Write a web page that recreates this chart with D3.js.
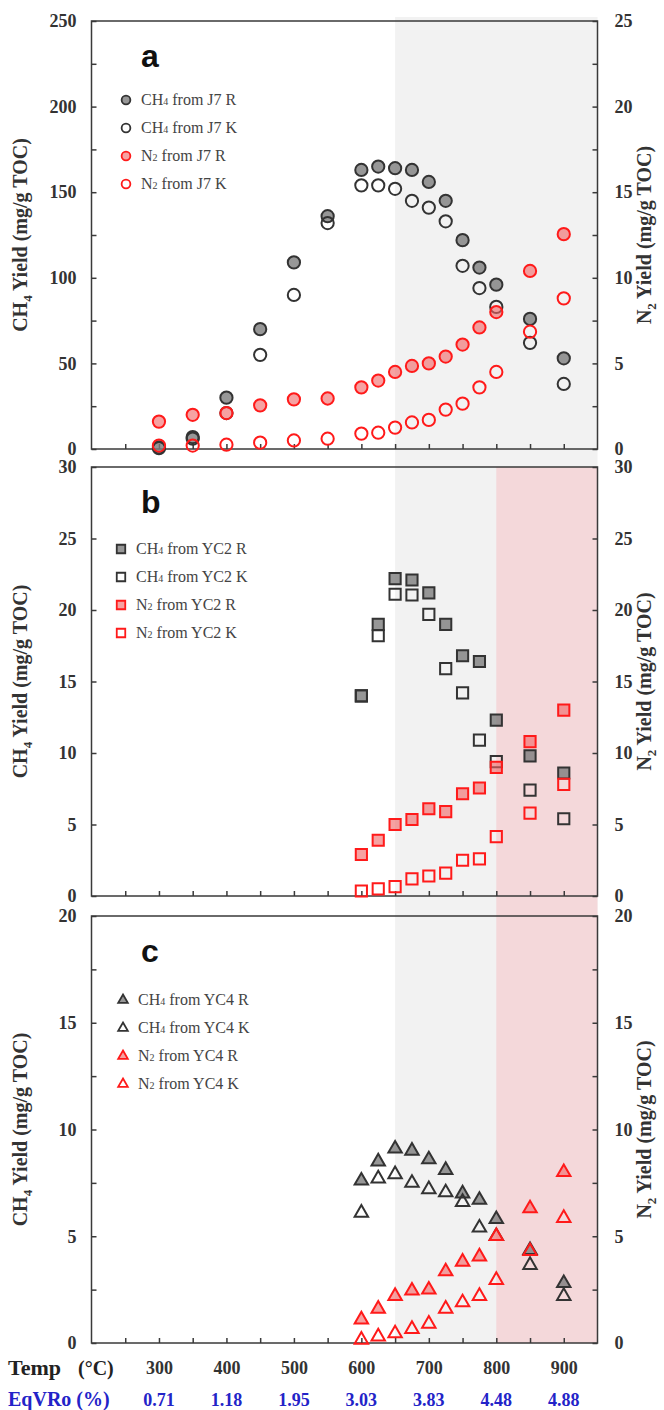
<!DOCTYPE html>
<html>
<head>
<meta charset="utf-8">
<script src="https://cdnjs.cloudflare.com/ajax/libs/d3/7.8.5/d3.min.js"></script>
<style>
  body { margin: 0; background: #fff; }
  .tick text { font-family: "Liberation Serif", "Times New Roman", serif; font-weight: bold; font-size: 18px; fill: #333; }
</style>
</head>
<body>
<script>
let width = 664;
let height = 1410;

// temperatures (°C)
let tempA = [300, 350, 400, 450, 500, 550, 600, 625, 650, 675, 700, 725, 750, 775, 800, 850, 900];
let tempBC = [600, 625, 650, 675, 700, 725, 750, 775, 800, 850, 900];

// panel a, J7
let ch4J7R = [1, 7, 30, 70, 109, 136, 163, 165, 164, 163, 156, 145, 122, 106, 96, 76, 53];
let ch4J7K = [0.5, 6, 21, 55, 90, 132, 154, 154, 152, 145, 141, 133, 107, 94, 83, 62, 38];
let n2J7R = [1.6, 2.0, 2.1, 2.55, 2.9, 2.95, 3.6, 4.0, 4.5, 4.85, 5.0, 5.4, 6.1, 7.1, 8.0, 10.4, 12.55];
let n2J7K = [0.2, 0.2, 0.25, 0.37, 0.5, 0.6, 0.9, 0.95, 1.25, 1.55, 1.7, 2.3, 2.65, 3.6, 4.5, 6.85, 8.8];

// panel b, YC2
let ch4YC2R = [14.0, 19.0, 22.2, 22.1, 21.2, 19.0, 16.8, 16.4, 12.3, 9.8, 8.6];
let ch4YC2K = [14.0, 18.2, 21.1, 21.05, 19.7, 15.9, 14.2, 10.9, 9.4, 7.4, 5.4];
let n2YC2R = [2.9, 3.9, 5.0, 5.35, 6.1, 5.9, 7.15, 7.55, 9.0, 10.8, 13.0];
let n2YC2K = [0.35, 0.5, 0.65, 1.2, 1.4, 1.6, 2.5, 2.6, 4.15, 5.8, 7.8];

// panel c, YC4
let ch4YC4R = [7.6, 8.5, 9.1, 9.0, 8.6, 8.1, 7.0, 6.7, 5.8, 4.35, 2.8];
let ch4YC4K = [6.1, 7.7, 7.9, 7.5, 7.2, 7.05, 6.6, 5.4, 5.0, 3.65, 2.2];
let n2YC4R = [1.1, 1.6, 2.2, 2.45, 2.5, 3.35, 3.8, 4.05, 5.0, 6.3, 8.0];
let n2YC4K = [0.15, 0.3, 0.45, 0.65, 0.9, 1.6, 1.9, 2.2, 2.95, 4.3, 5.85];

// x labels
let tempTicks = [300, 400, 500, 600, 700, 800, 900];
let eqVRo = ["0.71", "1.18", "1.95", "3.03", "3.83", "4.48", "4.88"];

let serif = "'Liberation Serif', 'Times New Roman', serif";
let axisColor = "#3a3a3a";

let x = d3.scaleLinear().domain([200, 950]).range([91.5, 597.5]);

let svg = d3.select("body").append("svg")
    .attr("width", width)
    .attr("height", height);

// background bands
let bandTop = 17, bandBottom = 1343;
svg.append("rect")
    .attr("x", x(650)).attr("y", bandTop)
    .attr("width", x(950) - x(650)).attr("height", bandBottom - bandTop)
    .attr("fill", "#f2f2f2");
svg.append("rect")
    .attr("x", x(800)).attr("y", 467)
    .attr("width", x(950) - x(800)).attr("height", bandBottom - 467)
    .attr("fill", "#f4d8da");

let styles = {
    grayFill: { fill: "rgba(125,125,125,0.8)", stroke: "#333" },
    grayOpen: { fill: "none", stroke: "#333" },
    redFill: { fill: "rgba(240,100,100,0.6)", stroke: "#ff1a1a" },
    redOpen: { fill: "none", stroke: "#ff1a1a" }
};

let panels = [
    {
        letter: "a", top: 21, bottom: 449, leftMax: 250, rightMax: 25,
        leftMajor: d3.range(0, 251, 50), leftMinor: d3.range(25, 250, 50),
        rightMajor: d3.range(0, 26, 5), rightMinor: d3.range(2.5, 25, 5),
        shape: d3.symbolCircle, size: 118, legendSize: 60, temps: tempA,
        series: [
            { name: "J7 R", gas: "CH", sub: "4", vals: ch4J7R, axis: "left", style: "grayFill" },
            { name: "J7 K", gas: "CH", sub: "4", vals: ch4J7K, axis: "left", style: "grayOpen" },
            { name: "J7 R", gas: "N", sub: "2", vals: n2J7R, axis: "right", style: "redFill" },
            { name: "J7 K", gas: "N", sub: "2", vals: n2J7K, axis: "right", style: "redOpen" }
        ],
        legendX: 126, legendY: 100
    },
    {
        letter: "b", top: 467, bottom: 896, leftMax: 30, rightMax: 30,
        leftMajor: d3.range(0, 31, 5), leftMinor: [],
        rightMajor: d3.range(0, 31, 5), rightMinor: [],
        shape: d3.symbolSquare, size: 125, legendSize: 72, temps: tempBC,
        series: [
            { name: "YC2 R", gas: "CH", sub: "4", vals: ch4YC2R, axis: "left", style: "grayFill" },
            { name: "YC2 K", gas: "CH", sub: "4", vals: ch4YC2K, axis: "left", style: "grayOpen" },
            { name: "YC2 R", gas: "N", sub: "2", vals: n2YC2R, axis: "right", style: "redFill" },
            { name: "YC2 K", gas: "N", sub: "2", vals: n2YC2K, axis: "right", style: "redOpen" }
        ],
        legendX: 121, legendY: 549
    },
    {
        letter: "c", top: 916, bottom: 1343, leftMax: 20, rightMax: 20,
        leftMajor: d3.range(0, 21, 5), leftMinor: d3.range(2.5, 20, 5),
        rightMajor: d3.range(0, 21, 5), rightMinor: d3.range(2.5, 20, 5),
        shape: d3.symbolTriangle, size: 78, legendSize: 40, temps: tempBC,
        series: [
            { name: "YC4 R", gas: "CH", sub: "4", vals: ch4YC4R, axis: "left", style: "grayFill" },
            { name: "YC4 K", gas: "CH", sub: "4", vals: ch4YC4K, axis: "left", style: "grayOpen" },
            { name: "YC4 R", gas: "N", sub: "2", vals: n2YC4R, axis: "right", style: "redFill" },
            { name: "YC4 K", gas: "N", sub: "2", vals: n2YC4K, axis: "right", style: "redOpen" }
        ],
        legendX: 123, legendY: 1000
    }
];

function axisTitle(g, cx, cy, gas, sub) {
    let t = g.append("text")
        .attr("transform", "translate(" + cx + "," + cy + ") rotate(-90)")
        .attr("text-anchor", "middle")
        .attr("font-family", serif)
        .attr("font-weight", "bold")
        .attr("font-size", 20)
        .attr("fill", "#333");
    t.append("tspan").text(gas);
    t.append("tspan").attr("font-size", 13).attr("dy", 5).text(sub);
    t.append("tspan").attr("dy", -5).text(" Yield (mg/g TOC)");
}

panels.forEach(function (p) {
    let yL = d3.scaleLinear().domain([0, p.leftMax]).range([p.bottom, p.top]);
    let yR = d3.scaleLinear().domain([0, p.rightMax]).range([p.bottom, p.top]);
    let g = svg.append("g");

    // axes
    g.append("g").attr("transform", "translate(" + x(200) + ",0)")
        .call(d3.axisLeft(yL).tickValues(p.leftMajor).tickSize(-5).tickPadding(15).tickFormat(d3.format("d")));
    g.append("g").attr("transform", "translate(" + x(200) + ",0)")
        .call(d3.axisLeft(yL).tickValues(p.leftMinor).tickSize(-5).tickFormat(""));
    g.append("g").attr("transform", "translate(" + x(950) + ",0)")
        .call(d3.axisRight(yR).tickValues(p.rightMajor).tickSize(-5).tickPadding(17).tickFormat(d3.format("d")));
    g.append("g").attr("transform", "translate(" + x(950) + ",0)")
        .call(d3.axisRight(yR).tickValues(p.rightMinor).tickSize(-5).tickFormat(""));
    g.append("g").attr("transform", "translate(0," + p.bottom + ")")
        .call(d3.axisBottom(x).tickValues(d3.range(250, 950, 50)).tickSize(-5).tickFormat(""));
    g.selectAll(".domain").remove();
    g.selectAll(".tick line").attr("stroke", axisColor).attr("stroke-width", 1.5);

    g.append("rect")
        .attr("x", x(200)).attr("y", p.top)
        .attr("width", x(950) - x(200)).attr("height", p.bottom - p.top)
        .attr("fill", "none").attr("stroke", axisColor).attr("stroke-width", 1.5);

    axisTitle(g, 27, (p.top + p.bottom) / 2, "CH", "4");
    axisTitle(g, 651, (p.top + p.bottom) / 2, "N", "2");

    // panel letter
    g.append("text")
        .attr("x", 141).attr("y", p.top + 46)
        .attr("font-family", "'Liberation Sans', Arial, sans-serif")
        .attr("font-weight", "bold").attr("font-size", 32)
        .attr("fill", "#111")
        .text(p.letter);

    // points
    p.series.forEach(function (s) {
        let y = s.axis === "left" ? yL : yR;
        let st = styles[s.style];
        g.append("g").selectAll("path")
            .data(s.vals)
            .enter()
            .append("path")
            .attr("transform", function (d, i) { return "translate(" + x(p.temps[i]) + "," + y(d) + ")"; })
            .attr("d", d3.symbol().type(p.shape).size(p.size))
            .attr("fill", st.fill)
            .attr("stroke", st.stroke)
            .attr("stroke-width", 2);
    });

    // legend
    let lg = g.append("g").attr("transform", "translate(" + p.legendX + "," + p.legendY + ")");
    p.series.forEach(function (s, i) {
        let st = styles[s.style];
        let row = lg.append("g").attr("transform", "translate(0," + (i * 28) + ")");
        row.append("path")
            .attr("d", d3.symbol().type(p.shape).size(p.legendSize))
            .attr("fill", st.fill)
            .attr("stroke", st.stroke)
            .attr("stroke-width", 1.8);
        let t = row.append("text")
            .attr("x", 15).attr("y", 5)
            .attr("font-family", serif)
            .attr("font-size", 16)
            .attr("fill", "#444");
        t.append("tspan").text(s.gas);
        t.append("tspan").attr("font-size", 10).text(s.sub);
        t.append("tspan").text(" from " + s.name);
    });
});

// bottom labels
let bottom = svg.append("g").attr("transform", "translate(0,1343)");
bottom.call(d3.axisBottom(x).tickValues(tempTicks).tickSize(0).tickPadding(18));
bottom.select(".domain").remove();

svg.append("text")
    .attr("x", 8).attr("y", 1375)
    .attr("font-family", serif).attr("font-weight", "bold").attr("font-size", 22)
    .attr("fill", "#222")
    .text("Temp");
svg.append("text")
    .attr("x", 78).attr("y", 1375)
    .attr("font-family", serif).attr("font-weight", "bold").attr("font-size", 20)
    .attr("fill", "#222")
    .text("(°C)");

svg.append("text")
    .attr("x", 8).attr("y", 1406)
    .attr("font-family", serif).attr("font-weight", "bold").attr("font-size", 20)
    .attr("fill", "#2323c8")
    .text("EqVRo (%)");
svg.append("g").selectAll("text")
    .data(eqVRo)
    .enter()
    .append("text")
    .attr("x", function (d, i) { return x(tempTicks[i]); })
    .attr("y", 1406)
    .attr("text-anchor", "middle")
    .attr("font-family", serif).attr("font-weight", "bold").attr("font-size", 18)
    .attr("fill", "#2323c8")
    .text(function (d) { return d; });
</script>
</body>
</html>
